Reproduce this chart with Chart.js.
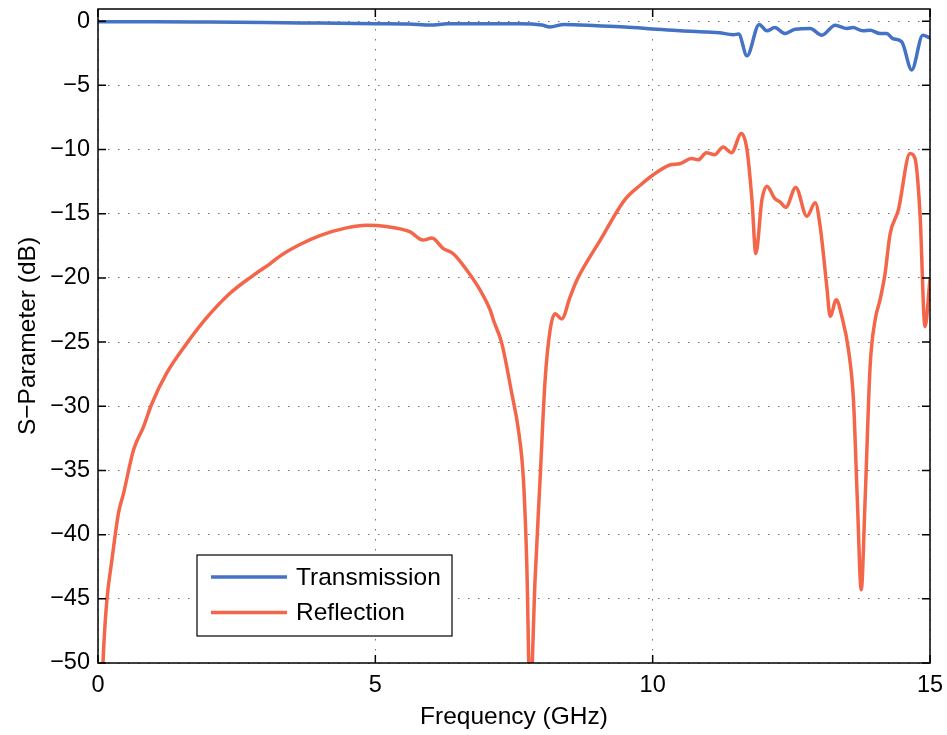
<!doctype html>
<html lang="en">
  <head>
    <meta charset="utf-8">
    <title>S-Parameter</title>
    <style>
      body { margin: 0; background: #fff; }
    </style>
  </head>
  <body>
    <canvas id="spChart" width="947" height="735"></canvas>

    <script src="https://cdn.jsdelivr.net/npm/chart.js"></script>
    <script>
      // frequency (GHz) / dB values
      const trans_freq = [0, 1, 2, 3, 4, 5, 5.6, 6, 6.3, 7, 7.6, 8, 8.15, 8.4, 9, 9.5, 10, 10.5, 11, 11.2, 11.45, 11.55, 11.7, 11.92, 12.06, 12.2, 12.39, 12.57, 12.84, 13.05, 13.29, 13.5, 13.61, 13.79, 13.92, 14.1, 14.22, 14.33, 14.49, 14.67, 14.87, 15];
      const trans_db = [-0.05, -0.05, -0.07, -0.1, -0.15, -0.2, -0.22, -0.3, -0.2, -0.2, -0.2, -0.3, -0.45, -0.25, -0.35, -0.45, -0.6, -0.75, -0.85, -0.9, -1.05, -1.0, -2.7, -0.25, -0.75, -0.5, -0.96, -0.62, -0.57, -1.09, -0.31, -0.57, -0.5, -0.75, -0.7, -0.96, -0.96, -1.35, -1.6, -3.8, -1.1, -1.3];

      const refl_freq = [0.07, 0.1, 0.16, 0.25, 0.37, 0.46, 0.64, 0.82, 0.97, 1.24, 1.6, 1.96, 2.38, 2.8, 3.1, 3.28, 3.64, 4.0, 4.48, 4.84, 5.2, 5.62, 5.86, 6.02, 6.22, 6.4, 6.65, 6.89, 7.07, 7.13, 7.28, 7.46, 7.58, 7.67, 7.73, 7.79, 7.88, 7.97, 8.06, 8.15, 8.24, 8.36, 8.51, 8.63, 9.05, 9.5, 9.77, 10.0, 10.31, 10.49, 10.7, 10.82, 10.97, 11.12, 11.27, 11.42, 11.6, 11.7, 11.79, 11.86, 11.97, 12.06, 12.2, 12.3, 12.4, 12.58, 12.78, 12.93, 13.02, 13.14, 13.2, 13.31, 13.41, 13.53, 13.62, 13.69, 13.76, 13.83, 13.92, 14.01, 14.1, 14.19, 14.28, 14.43, 14.64, 14.73, 14.82, 14.91, 15.0];
      const refl_db = [-52, -49, -45.1, -42, -38.3, -36.8, -33.4, -31.6, -29.8, -27.4, -25.1, -23.1, -21.2, -19.8, -18.9, -18.3, -17.4, -16.7, -16.1, -15.9, -16.0, -16.4, -17.05, -16.9, -17.7, -18.1, -19.4, -20.95, -22.5, -23.3, -25.1, -29.0, -31.85, -35.7, -42.2, -53, -43.5, -35.7, -28.0, -24.1, -22.8, -23.2, -21.5, -20.2, -17.1, -13.9, -12.8, -12.0, -11.2, -11.1, -10.7, -10.8, -10.25, -10.4, -9.8, -10.25, -8.75, -10.0, -13.9, -18.1, -13.9, -12.85, -13.8, -14.1, -14.5, -12.95, -15.2, -14.15, -16.0, -20.7, -23.0, -21.7, -23.0, -25.6, -29.5, -37.3, -44.3, -37.3, -26.9, -23.3, -21.7, -19.65, -16.6, -14.7, -10.3, -10.7, -15.0, -23.8, -20.1];

      const x_ticks = [0, 5, 10, 15];
      const y_ticks = [-50, -45, -40, -35, -30, -25, -20, -15, -10, -5, 0];

      const font_family = "'Liberation Sans', Arial, Helvetica, sans-serif";

      function toPoints(xs, ys) {
        return xs.map((x, i) => ({ x: x, y: ys[i] }));
      }

      // box + inward ticks + legend, matlab style
      const framePlugin = {
        id: 'frame',
        afterDraw(chart) {
          const ctx = chart.ctx;
          const a = chart.chartArea;
          const xs = chart.scales.x;
          const ys = chart.scales.y;
          const tl = 8;
          ctx.save();
          ctx.strokeStyle = '#000';
          ctx.lineWidth = 1.5;
          ctx.strokeRect(a.left, a.top, a.right - a.left, a.bottom - a.top);
          ctx.beginPath();
          x_ticks.forEach(v => {
            const p = xs.getPixelForValue(v);
            ctx.moveTo(p, a.bottom); ctx.lineTo(p, a.bottom - tl);
            ctx.moveTo(p, a.top); ctx.lineTo(p, a.top + tl);
          });
          y_ticks.forEach(v => {
            const p = ys.getPixelForValue(v);
            ctx.moveTo(a.left, p); ctx.lineTo(a.left + tl, p);
            ctx.moveTo(a.right, p); ctx.lineTo(a.right - tl, p);
          });
          ctx.stroke();

          // legend
          const lx = 197, ly = 555, lw = 255, lh = 81;
          ctx.fillStyle = '#fff';
          ctx.fillRect(lx, ly, lw, lh);
          ctx.lineWidth = 1.2;
          ctx.strokeRect(lx, ly, lw, lh);
          ctx.font = '24.5px ' + font_family;
          ctx.textBaseline = 'middle';
          chart.data.datasets.forEach((ds, i) => {
            const yy = ly + 22 + i * 35.5;
            ctx.strokeStyle = ds.borderColor;
            ctx.lineWidth = 3.5;
            ctx.beginPath();
            ctx.moveTo(lx + 14, yy);
            ctx.lineTo(lx + 90, yy);
            ctx.stroke();
            ctx.fillStyle = '#000';
            ctx.fillText(ds.label, lx + 99, yy + 1);
          });
          ctx.restore();
        }
      };

      const minus = v => String(v).replace('-', '\u2212');

      const spChart = new Chart(document.getElementById('spChart'), {
        type: 'line',
        data: {
          datasets: [{
            label: 'Transmission',
            borderColor: '#4472c4',
            data: toPoints(trans_freq, trans_db),
          },
          {
            label: 'Reflection',
            borderColor: '#f4664a',
            data: toPoints(refl_freq, refl_db),
          }]
        },
        options: {
          responsive: false,
          animation: false,
          layout: { padding: { top: 9, right: 17, left: 0, bottom: 0 } },
          elements: {
            point: { radius: 0 },
            line: { borderWidth: 3.5, cubicInterpolationMode: 'monotone', fill: false }
          },
          plugins: {
            legend: { display: false },
            tooltip: { enabled: false }
          },
          scales: {
            x: {
              type: 'linear',
              min: 0,
              max: 15,
              afterBuildTicks: axis => { axis.ticks = x_ticks.map(v => ({ value: v })); },
              afterFit: axis => { axis.height = 72; axis.paddingLeft = 0; axis.paddingRight = 0; },
              border: { display: false, dash: [1.5, 8.5] },
              grid: { color: 'rgba(0,0,0,0.55)', lineWidth: 1, drawTicks: false },
              ticks: { color: '#000', padding: 8, maxRotation: 0, font: { family: font_family, size: 23.5 }, callback: v => minus(v) },
              title: { display: true, text: 'Frequency (GHz)', color: '#000', padding: { top: 0, bottom: 3 }, font: { family: font_family, size: 24.5 } }
            },
            y: {
              type: 'linear',
              min: -50,
              max: 0.95,
              afterBuildTicks: axis => { axis.ticks = y_ticks.map(v => ({ value: v })); },
              afterFit: axis => { axis.width = 98; axis.paddingTop = 0; axis.paddingBottom = 0; },
              border: { display: false, dash: [1.5, 8.5] },
              grid: { color: 'rgba(0,0,0,0.55)', lineWidth: 1, drawTicks: false },
              ticks: { color: '#000', padding: 8, font: { family: font_family, size: 23.5 }, callback: v => minus(v) },
              title: { display: true, text: 'S\u2212Parameter (dB)', color: '#000', padding: { top: 14, bottom: 0 }, font: { family: font_family, size: 24.5 } }
            }
          }
        },
        plugins: [framePlugin]
      });
    </script>
  </body>
</html>
